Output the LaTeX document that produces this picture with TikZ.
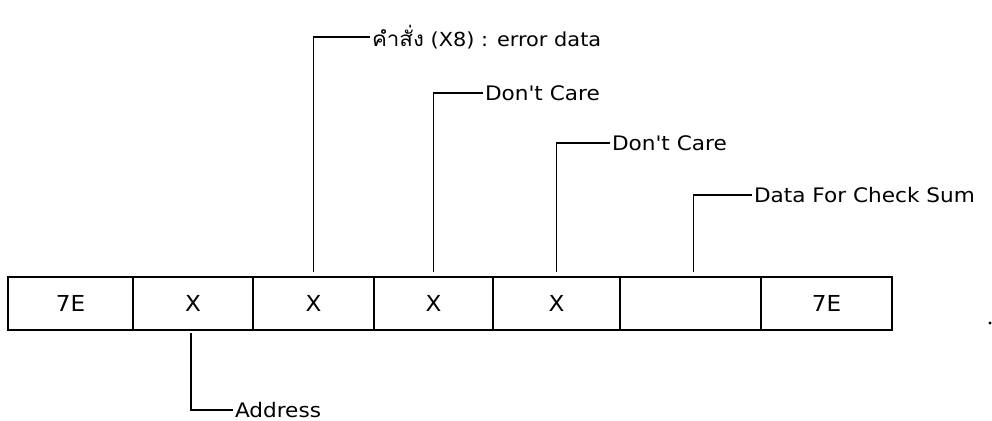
\documentclass[tikz,border=0pt]{standalone}
\usepackage{fontspec}
\newfontfamily\labfont[FakeStretch=1.08]{DejaVu Sans}
\newfontfamily\boxfont[FakeStretch=1.05]{DejaVu Sans}
\newfontfamily\thaifont[Script=Thai,FakeStretch=1.08]{Loma}
\begin{document}
\begin{tikzpicture}[x=0.75pt,y=-0.75pt,
  cell/.style={draw, line width=1.1pt, inner sep=0pt, outer sep=0pt,
    minimum height=39.75pt, font=\boxfont\fontsize{16.5}{19}\selectfont},
  lab/.style={anchor=west, inner sep=0pt, outer sep=1.5pt, font=\labfont\fontsize{15}{18}\selectfont},
  conn/.style={draw, line width=0.9pt}]
\useasboundingbox (0,0) rectangle (992,421);
% cells
\node[cell, minimum width=93.75pt] (b1) at (70.5,303.5) {7E};
\node[cell, minimum width=90pt]    (b2) at (193,303.5) {X};
\node[cell, minimum width=90.75pt] (b3) at (313.5,303.5) {X};
\node[cell, minimum width=89.25pt] (b4) at (433.5,303.5) {X};
\node[cell, minimum width=95.25pt] (b5) at (556.5,303.5) {X};
\node[cell, minimum width=105.75pt] (b6) at (690.5,303.5) {};
\node[cell, minimum width=98.25pt] (b7) at (826.5,303.5) {7E};
% labels
\node[lab] (l1) at (370,37) {\thaifont\fontsize{15.5}{18}\selectfont คำสั่ง\labfont\fontsize{14.5}{18}\selectfont{} (X8) : error data};
\node[lab] (l2) at (483,93) {Don't Care};
\node[lab] (l3) at (610,143) {Don't Care};
\node[lab] (l4) at (752,195) {Data For Check Sum};
\node[lab] (l5) at (233,410) {Address};
% connectors
\coordinate (c1) at ([yshift=3.5pt]b3.north);
\coordinate (c2) at ([yshift=3.5pt]b4.north);
\coordinate (c3) at ([yshift=3.5pt]b5.north);
\coordinate (c4) at ([xshift=2.25pt,yshift=3.5pt]b6.north);
\coordinate (c5) at ([xshift=-1.5pt,yshift=-2.5pt]b2.south);
\draw[conn] (c1) |- (l1.west);
\draw[conn] (c2) |- (l2.west);
\draw[conn] (c3) |- (l3.west);
\draw[conn] (c4) |- (l4.west);
\draw[conn] (c5) |- (l5.west);
% stray dot
\fill (990,323) circle (1.2pt);
\end{tikzpicture}
\end{document}
